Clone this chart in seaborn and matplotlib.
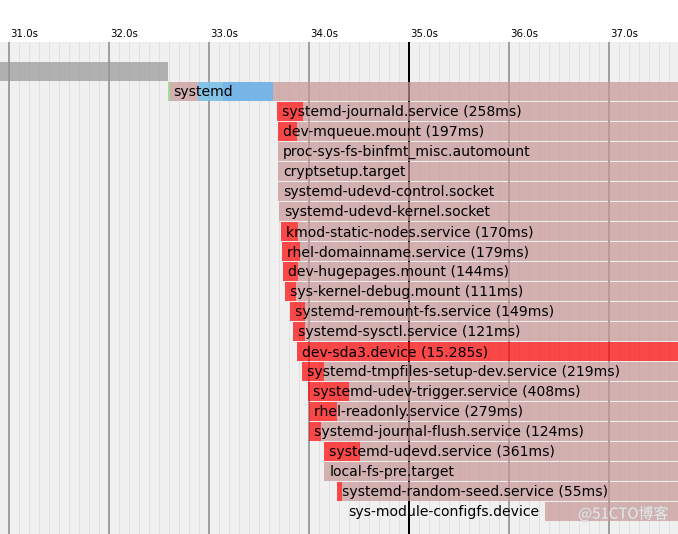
import matplotlib
matplotlib.use("Agg")
import matplotlib.pyplot as plt
import matplotlib.patheffects as pe
import numpy as np
import seaborn as sns

# ---------------- data ----------------
kernel_end = 32.59                 # end of kernel/initrd (gray) bar
systemd_start = 32.59
security = (32.59, 32.61)
generators = (32.89, 33.14)
unitsload = (33.14, 33.64)

units = [
    "systemd-journald.service", "dev-mqueue.mount", "proc-sys-fs-binfmt_misc.automount",
    "cryptsetup.target", "systemd-udevd-control.socket", "systemd-udevd-kernel.socket",
    "kmod-static-nodes.service", "rhel-domainname.service", "dev-hugepages.mount",
    "sys-kernel-debug.mount", "systemd-remount-fs.service", "systemd-sysctl.service",
    "dev-sda3.device", "systemd-tmpfiles-setup-dev.service", "systemd-udev-trigger.service",
    "rhel-readonly.service", "systemd-journal-flush.service", "systemd-udevd.service",
    "local-fs-pre.target", "systemd-random-seed.service", "sys-module-configfs.device",
]
start_s = [33.683, 33.685, 33.690, 33.690, 33.692, 33.700, 33.717, 33.733, 33.743,
           33.760, 33.810, 33.843, 33.877, 33.927, 33.993, 33.998, 34.000, 34.153,
           34.153, 34.277, 34.340]
activating_ms = [258, 197, 0, 0, 0, 0, 170, 179, 144, 111, 149, 121, 15285, 219,
                 408, 279, 124, 361, 0, 55, 0]
pending_s = [0, 0, 0, 0, 0, 0, 0, 0, 0, 0, 0, 0, 0, 0, 0, 0, 0, 0, 0, 0, 2.02]
finish_s = 45.0

tick_secs = [31, 32, 33, 34, 35, 36, 37]

# ---------------- style ----------------
sns.set_theme(style="white")
plt.rcParams["font.family"] = ["DejaVu Sans"]

W, H = 678, 534
fig = plt.figure(figsize=(W / 100, H / 100), dpi=100)
top_px = 42
ax = fig.add_axes([0, 0, 1, (H - top_px) / H])
ax.set_facecolor((240 / 255, 240 / 255, 240 / 255))
for s in ax.spines.values():
    s.set_visible(False)
ax.set_xticks([])
ax.set_yticks([])

x0 = 31.0 - 9 / 100
x1 = x0 + W / 100
ax.set_xlim(x0, x1)
nrows = (H - top_px) / 20
ax.set_ylim(nrows, 0)

# grid lines
for k in range(300, 380):
    t = k / 10
    if k % 10 == 0:
        continue
    ax.axvline(t, color=(224 / 255,) * 3, lw=0.72, zorder=1)
for s in range(30, 39):
    c = "black" if s % 5 == 0 else (160 / 255,) * 3
    ax.axvline(s, color=c, lw=1.44, zorder=1.5)

alpha = 0.7
C_ACTIVE = (200 / 255, 150 / 255, 150 / 255)
C_ACT = (1.0, 0.0, 0.0)
C_GRAY = (150 / 255,) * 3
C_SEC = (144 / 255, 238 / 255, 144 / 255)
C_GEN = (102 / 255, 204 / 255, 1.0)
C_LOAD = (82 / 255, 184 / 255, 1.0)

def bar(row, a, b, color):
    ax.barh(row, b - a, left=a, height=0.95, align="edge", color=color,
            alpha=alpha, linewidth=0, zorder=2)

FS = 14 * 72 / 100

# kernel row
bar(1, 0.0, kernel_end, C_GRAY)
# systemd row
bar(2, systemd_start, finish_s, C_ACTIVE)
bar(2, *security, C_SEC)
bar(2, *generators, C_GEN)
bar(2, *unitsload, C_LOAD)
ax.text(systemd_start + 0.05, 2 + 0.7, "systemd", fontsize=FS, color="black",
        va="baseline", ha="left", zorder=5)

for i, (name, st, ms, pend) in enumerate(zip(units, start_s, activating_ms, pending_s)):
    row = 3 + i
    act_end = st + ms / 1000
    if ms > 0:
        bar(row, st, act_end, C_ACT)
    bar(row, act_end + pend, finish_s, C_ACTIVE)
    if ms > 0:
        dur = f"{ms / 1000:.3f}s" if ms >= 1000 else f"{ms}ms"
        label = f"{name} ({dur})"
    else:
        label = name
    ax.text(st + 0.05, row + 0.7, label, fontsize=FS, color="black",
            va="baseline", ha="left", zorder=5)

# time labels
for s in tick_secs:
    ax.text(s + 0.015, -5 / 20, f"{s:.1f}s", fontsize=7.4, color="black",
            va="baseline", ha="left", clip_on=False)

# watermark
fig.text(578 / W, 1 - 514 / H, "@51CTO博客", fontsize=10.8, color="white", alpha=0.55,
         family=["Noto Sans CJK SC", "DejaVu Sans"], va="center", ha="left",
         path_effects=[pe.withStroke(linewidth=1.0, foreground="#b8b8b8", alpha=0.5)],
         zorder=10)

fig.savefig("out.png", dpi=100)
